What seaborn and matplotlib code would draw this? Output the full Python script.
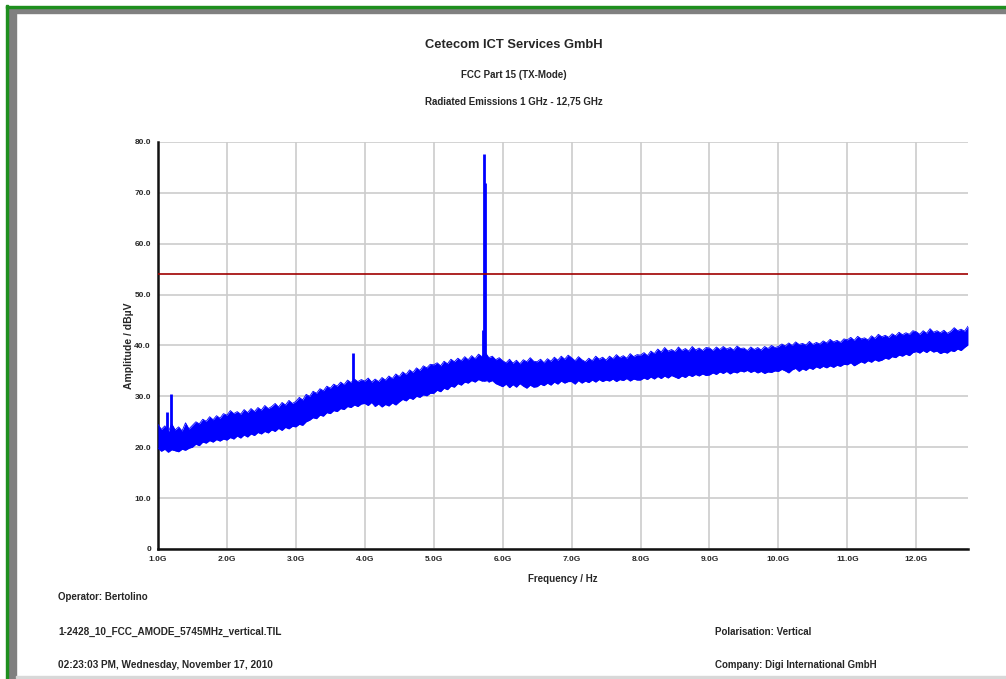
import numpy as np
import pandas as pd
import seaborn as sns
import matplotlib.pyplot as plt
from matplotlib.patches import Rectangle
from matplotlib.ticker import MultipleLocator

# frequency grid in GHz (0.05 GHz steps, 1.0 .. 12.75)
freq = np.round(np.arange(1.0, 12.751, 0.05), 2)

# upper envelope of the noise trace (dBuV)
trace_hi = [
    24.5, 23.5, 24.2, 23.0, 24.6, 23.4, 24.0, 23.2, 24.8, 23.6, 24.3, 25.0, 24.6, 25.5, 25.1, 26.0, 25.4, 26.2, 25.7, 26.6,
    26.3, 27.2, 26.6, 27.0, 26.5, 27.4, 26.8, 27.6, 27.0, 27.8, 27.3, 28.2, 27.6, 28.0, 28.6, 27.9, 28.8, 28.3, 29.2, 28.6,
    29.0, 29.8, 29.3, 30.4, 30.0, 31.0, 30.6, 31.5, 31.1, 32.0, 31.6, 32.4, 32.0, 32.8, 32.3, 33.2, 32.7, 33.4, 32.9, 33.3,
    33.0, 33.6, 32.8, 33.4, 32.9, 33.7, 33.2, 34.0, 33.5, 34.4, 33.9, 34.8, 34.3, 35.2, 34.7, 35.6, 35.1, 36.0, 35.6, 36.3,
    36.2, 36.6, 36.0, 36.9, 36.4, 37.3, 36.8, 37.5, 37.0, 37.8, 37.2, 38.0, 37.4, 38.3, 37.8, 38.6, 37.6, 37.9, 37.2, 37.6,
    37.0, 36.6, 37.3, 36.5, 37.1, 36.4, 37.2, 36.8, 37.6, 36.9, 36.8, 37.3, 36.6, 37.4, 36.9, 37.7, 37.1, 37.9, 37.3, 38.1,
    37.6, 37.0, 37.8, 37.2, 36.8, 37.5, 37.0, 37.9, 37.3, 37.7, 37.1, 37.9, 37.4, 38.2, 37.6, 38.0, 37.5, 38.4, 37.8, 38.2,
    38.1, 38.6, 38.0, 38.9, 38.4, 39.3, 38.7, 39.6, 38.9, 39.2, 38.8, 39.7, 39.0, 39.4, 38.9, 39.8, 39.1, 39.5, 39.0, 39.6,
    39.5, 39.0, 39.7, 39.2, 39.8, 39.3, 39.6, 39.1, 39.9, 39.4, 39.5, 39.0, 39.7, 39.2, 39.6, 39.1, 39.8, 39.4, 40.0, 39.6,
    39.8, 40.3, 39.9, 40.5, 40.0, 40.7, 40.2, 40.4, 40.1, 40.8, 40.2, 40.6, 40.3, 40.9, 40.5, 41.2, 40.7, 41.0, 40.6, 41.3,
    41.1, 41.6, 41.0, 41.8, 41.3, 41.5, 41.1, 41.9, 41.4, 42.2, 41.7, 42.0, 41.6, 42.3, 41.9, 42.6, 42.1, 42.5, 42.2, 42.9,
    42.7, 42.2, 42.9, 42.4, 43.3, 42.6, 42.9, 42.5, 43.0, 42.4, 42.8, 43.5, 42.9, 43.2, 42.8, 43.8,
]

# lower envelope of the noise trace (dBuV)
trace_lo = [
    19.8, 19.2, 19.6, 19.0, 19.5, 19.3, 19.1, 19.6, 19.4, 19.8, 20.0, 20.6, 20.3, 21.0, 20.8, 21.3, 21.0, 21.5, 21.2, 21.6,
    21.4, 21.9, 21.6, 22.2, 21.8, 22.4, 22.0, 22.6, 22.3, 22.9, 22.6, 23.1, 22.8, 23.4, 23.1, 23.7, 23.3, 23.9, 23.6, 24.1,
    24.0, 24.5, 24.3, 25.0, 25.3, 25.8, 25.6, 26.3, 26.1, 26.8, 26.6, 27.2, 27.0, 27.6, 27.4, 28.0, 27.8, 28.3, 28.0, 28.5,
    28.6, 28.2, 28.8, 28.0, 28.5, 27.9, 28.4, 28.1, 28.7, 28.3, 28.9, 29.4, 29.1, 29.7, 29.4, 30.0, 29.8, 30.3, 30.1, 30.6,
    30.6, 31.2, 30.9, 31.6, 31.3, 32.0, 31.8, 32.5, 32.2, 32.8, 32.6, 33.1, 32.8, 33.3, 33.0, 33.4, 32.8, 33.1, 32.5, 32.2,
    31.9, 32.4, 31.7, 32.3, 31.8, 32.5, 32.0, 31.6, 32.2, 31.8, 31.9, 32.4, 32.1, 32.6, 32.2, 32.8, 32.4, 33.0, 32.6, 32.9,
    32.9, 32.4, 33.1, 32.6, 33.0, 32.7, 33.2, 32.8, 33.3, 32.9, 33.2, 33.0, 33.4, 32.9, 33.3, 33.1, 33.5, 33.0, 33.4, 33.2,
    33.2, 33.6, 33.3, 33.8, 33.4, 33.9, 33.5, 34.0, 33.6, 34.1, 33.8, 33.5, 34.0, 33.7, 34.2, 33.9, 34.3, 34.0, 34.4, 34.1,
    34.2, 34.6, 34.3, 34.8, 34.5, 34.9, 34.4, 34.8, 34.6, 35.0, 34.8, 35.1, 34.7, 35.0, 34.6, 34.9, 34.5, 34.8, 34.7, 35.0,
    34.9, 35.3, 35.0, 34.6, 35.2, 35.5, 34.9, 35.4, 35.1, 35.6, 35.3, 35.8, 35.5, 35.9, 35.6, 36.0, 35.7, 36.1, 35.9, 36.3,
    36.2, 36.6, 36.0, 36.4, 36.8, 36.5, 37.0, 36.7, 37.2, 36.9, 37.1, 37.5, 37.3, 37.8, 37.6, 38.1, 37.9, 38.3, 38.0, 38.6,
    38.8, 38.5, 39.0, 38.6, 39.1, 38.7, 38.9, 38.4, 38.7, 38.5, 39.0, 38.8, 39.3, 39.0, 39.6, 40.1,
]

# narrow spikes above the noise floor
spike_freq = [1.13, 1.19, 3.83, 5.71, 5.735, 5.75]
spike_base = [21.0, 21.0, 29.0, 33.0, 33.0, 33.0]
spike_top = [27.0, 30.5, 38.5, 43.0, 77.6, 72.0]

limit = 54.0

x_ticks = [1.0, 2.0, 3.0, 4.0, 5.0, 6.0, 7.0, 8.0, 9.0, 10.0, 11.0, 12.0]
x_ticklabels = ["1.0G", "2.0G", "3.0G", "4.0G", "5.0G", "6.0G", "7.0G", "8.0G", "9.0G", "10.0G", "11.0G", "12.0G"]
y_ticks = [0, 10, 20, 30, 40, 50, 60, 70, 80]
y_ticklabels = ["0", "10.0", "20.0", "30.0", "40.0", "50.0", "60.0", "70.0", "80.0"]

df = pd.DataFrame({"freq": freq, "hi": trace_hi, "lo": trace_lo})

sns.set_style("white")
plt.rcParams["font.family"] = ["Liberation Sans", "DejaVu Sans"]

fig = plt.figure(figsize=(10.06, 6.79), dpi=100)
ax = fig.add_axes([0.157, 0.1915, 0.8052, 0.5994])

blue = "#0000ff"
ax.fill_between(df["freq"], df["lo"], df["hi"], color=blue, lw=0, zorder=3)
sns.lineplot(data=df, x="freq", y="hi", color=blue, lw=0.6, ax=ax, zorder=3)
sns.lineplot(data=df, x="freq", y="lo", color=blue, lw=0.6, ax=ax, zorder=3)
ax.vlines(spike_freq, spike_base, spike_top, color=blue, lw=2, zorder=3)
ax.axhline(limit, color="#a00000", lw=1.2, zorder=4)

ax.set_xlim(1.0, 12.75)
ax.set_ylim(0, 80)
ax.set_xticks(x_ticks)
ax.set_xticklabels(x_ticklabels)
ax.set_yticks(y_ticks)
ax.set_yticklabels(y_ticklabels)
ax.xaxis.set_minor_locator(MultipleLocator(0.2))
ax.yaxis.set_minor_locator(MultipleLocator(2.5))
ax.tick_params(which="major", direction="inout", length=8, width=1.5, color="#111111",
               labelsize=6, pad=1)
ax.tick_params(which="minor", direction="inout", length=5, width=1.2, color="#111111")
for lab in ax.get_xticklabels() + ax.get_yticklabels():
    lab.set_fontweight("bold")
ax.grid(True, which="major", color="#cccccc", lw=1.2, zorder=0)
ax.set_axisbelow(True)
for s in ["top", "right"]:
    ax.spines[s].set_visible(False)
for s in ["left", "bottom"]:
    ax.spines[s].set_color("#111111")
    ax.spines[s].set_linewidth(1.8)

ax.set_xlabel("Frequency / Hz", fontsize=7, fontweight="bold", labelpad=8)
ax.set_ylabel("Amplitude / dBµV", fontsize=7.5, fontweight="bold", labelpad=0)

# titles
fig.text(0.511, 0.933, "Cetecom ICT Services GmbH", ha="center", va="center", fontsize=9.3, fontweight="bold")
fig.text(0.511, 0.889, "FCC Part 15 (TX-Mode)", ha="center", va="center", fontsize=7, fontweight="bold")
fig.text(0.511, 0.850, "Radiated Emissions 1 GHz - 12,75 GHz", ha="center", va="center", fontsize=7, fontweight="bold")

# footer info
fig.text(0.058, 1 - 597 / 679, "Operator: Bertolino", va="center", fontsize=7, fontweight="bold")
fig.text(0.058, 1 - 632 / 679, "1-2428_10_FCC_AMODE_5745MHz_vertical.TIL", va="center", fontsize=7.2, fontweight="bold")
fig.text(0.058, 1 - 665 / 679, "02:23:03 PM, Wednesday, November 17, 2010", va="center", fontsize=7.2, fontweight="bold")
fig.text(0.711, 1 - 632 / 679, "Polarisation: Vertical", va="center", fontsize=7, fontweight="bold")
fig.text(0.711, 1 - 665 / 679, "Company: Digi International GmbH", va="center", fontsize=7, fontweight="bold")

# page frame
W, H = 1006, 679
fig.patches.append(Rectangle((7 / W, 0), 9 / W, 1 - 7 / H, transform=fig.transFigure, color="#808080", zorder=0))
fig.patches.append(Rectangle((7 / W, 1 - 13 / H), 1, 6 / H, transform=fig.transFigure, color="#808080", zorder=0))
fig.patches.append(Rectangle((6 / W, 0), 2 / W, 1 - 5 / H, transform=fig.transFigure, color="#1e8f1e", zorder=1))
fig.patches.append(Rectangle((6 / W, 1 - 8 / H), 1, 2 / H, transform=fig.transFigure, color="#1e8f1e", zorder=1))
fig.patches.append(Rectangle((16 / W, 1.5 / H), 1, 1.5 / H, transform=fig.transFigure, color="#d8d8d8", zorder=1))

fig.savefig("out.png", dpi=100)
